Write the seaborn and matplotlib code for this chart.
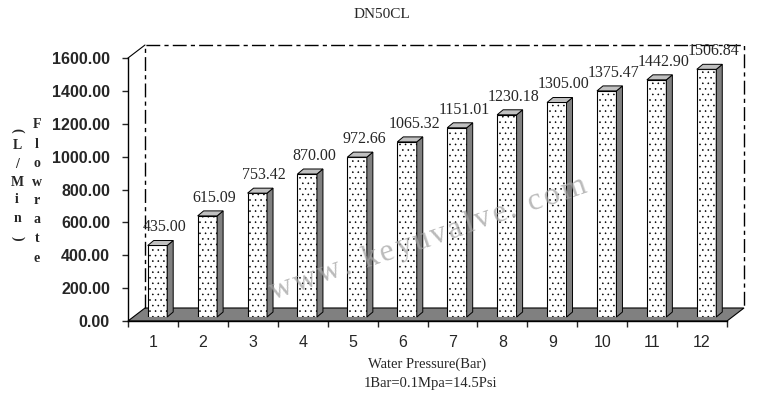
import matplotlib
matplotlib.use("Agg")
import math
import matplotlib.pyplot as plt
from matplotlib.patches import Polygon
from matplotlib.lines import Line2D
from matplotlib.transforms import IdentityTransform
import pandas as pd
import seaborn as sns

## Data

pressure = ['1', '2', '3', '4', '5', '6', '7', '8', '9', '10', '11', '12']
flow = [435.00, 615.09, 753.42, 870.00, 972.66, 1065.32, 1151.01,
        1230.18, 1305.00, 1375.47, 1442.90, 1506.84]
yticks = [0, 200, 400, 600, 800, 1000, 1200, 1400, 1600]

df = pd.DataFrame({'pressure': pressure, 'flow': flow})

W, H = 775, 398
sns.set_style('white')
plt.rcParams['hatch.color'] = 'black'
plt.rcParams['hatch.linewidth'] = 0.4

serif = 'Liberation Serif'
sans = 'Liberation Sans'


def px(x, y):
    return x / W, 1 - y / H


fig = plt.figure(figsize=(W / 100, H / 100), dpi=100)

## main axes: front of the 3D box (ticks, labels, floor)
left, right, top, bottom = 128, 727, 58, 321
ax = fig.add_axes([left / W, 1 - bottom / H, (right - left) / W, (bottom - top) / H])
ax.set_xlim(-0.5, len(pressure) - 0.5)
ax.set_ylim(0, 1600)
ax.set_facecolor('none')
for s in ['top', 'right']:
    ax.spines[s].set_visible(False)
for s in ['left', 'bottom']:
    ax.spines[s].set_color('black')
    ax.spines[s].set_linewidth(1)

ax.set_yticks(yticks)
ax.set_yticklabels([f'{v:.2f}' for v in yticks], fontfamily=sans,
                   fontweight='bold', fontsize=11.5)
ax.tick_params(axis='y', direction='out', length=4, width=1, pad=9, left=True)
ax.set_xticks(range(len(pressure)))
ax.set_xticklabels(pressure, fontfamily=sans, fontsize=11.5)
ax.set_xticks([i - 0.5 for i in range(len(pressure) + 1)], minor=True)
ax.tick_params(axis='x', which='major', length=0, pad=10)
ax.tick_params(axis='x', which='minor', direction='out', length=4, width=1, bottom=True)

# 3D depth of the box in pixels
dx, dy = 17, 13
fl = ax.transAxes.transform((0, 0))
fr = ax.transAxes.transform((1, 0))
tl = ax.transAxes.transform((0, 1))
floor = Polygon([fl, fr, (fr[0] + dx, fr[1] + dy), (fl[0] + dx, fl[1] + dy)],
                closed=True, facecolor='#808080', edgecolor='black', lw=0.8,
                transform=IdentityTransform(), zorder=1, clip_on=False)
ax.add_artist(floor)

# back wall outline (dash-dot)
bl = (fl[0] + dx, fl[1] + dy)
btl = (tl[0] + dx, tl[1] + dy)
btr = (fr[0] + dx, tl[1] + dy)
bbr = (fr[0] + dx, fr[1] + dy)
wall = Line2D([bl[0], btl[0], btr[0], bbr[0]], [bl[1], btl[1], btr[1], bbr[1]],
              color='black', lw=1, dashes=(10, 3, 3, 3),
              transform=IdentityTransform(), clip_on=False)
ax.add_artist(wall)
ax.add_artist(Line2D([tl[0], btl[0]], [tl[1], btl[1]], color='black', lw=0.8,
                     transform=IdentityTransform(), clip_on=False))

## bar axes, shifted into the depth of the box
bx, by = 4.5, 4
axb = fig.add_axes([(left + bx) / W, 1 - (bottom - by) / H,
                    (right - left) / W, (bottom - top) / H])
sns.barplot(data=df, x='pressure', y='flow', order=pressure, color='white',
            edgecolor='black', linewidth=0.8, width=0.39, saturation=1, ax=axb)
axb.set_xlim(-0.5, len(pressure) - 0.5)
axb.set_ylim(0, 1600)
axb.axis('off')

sx, sy = 6, 5
for p in axb.patches:
    p.set_hatch('...')
    p.set_zorder(3)
    x0, x1 = p.get_x(), p.get_x() + p.get_width()
    h = p.get_height()
    (a0, b0), (a1, b1) = axb.transData.transform([(x0, 0), (x1, h)])
    side = Polygon([(a1, b0), (a1, b1), (a1 + sx, b1 + sy), (a1 + sx, b0 + sy)],
                   facecolor='#808080', edgecolor='black', lw=0.7,
                   transform=IdentityTransform(), zorder=3, clip_on=False)
    topf = Polygon([(a0, b1), (a1, b1), (a1 + sx, b1 + sy), (a0 + sx, b1 + sy)],
                   facecolor='#c0c0c0', edgecolor='black', lw=0.7,
                   transform=IdentityTransform(), zorder=3, clip_on=False)
    axb.add_artist(side)
    axb.add_artist(topf)
    axb.annotate(f'{h:.2f}', (x0 + p.get_width() / 2, h), xytext=(7, 18),
                 textcoords='offset pixels', ha='center', va='center',
                 fontfamily=serif, fontsize=11.5, annotation_clip=False)

## texts
fig.text(*px(382, 14), 'DN50CL', fontfamily=serif, fontsize=11, ha='center', va='center')
fig.text(*px(427, 364), 'Water Pressure(Bar)', fontfamily=serif, fontsize=10.5,
         ha='center', va='center')
fig.text(*px(430, 383), '1Bar=0.1Mpa=14.5Psi', fontfamily=serif, fontsize=10.5,
         ha='center', va='center')

# vertical y label, one character per line
for i, ch in enumerate('Flowrate'):
    fig.text(*px(37, 125 + i * 19), ch, fontfamily=serif, fontweight='bold',
             fontsize=10, ha='center', va='center')
unit = ['(', 'L', '/', 'M', 'i', 'n', ')']
unit_y = [130, 146, 164, 182, 200, 219, 238]
for ch, yy in zip(unit, unit_y):
    rot = -90 if ch in '()' else 0
    fig.text(*px(17, yy), ch, fontfamily=serif, fontweight='bold', fontsize=10,
             ha='center', va='center', rotation=rot, rotation_mode='anchor')

# watermark, letter-spaced along a slanted line
renderer = fig.canvas.get_renderer()
angle = 19
ca, sa = math.cos(math.radians(angle)), math.sin(math.radians(angle))
gap = 2.5
cx, cy = 273, 300   # start of the baseline, pixels from top-left
for ch in 'www. keyuvalve. com':
    fig.text(*px(cx, cy), ch, fontfamily=serif, fontsize=23, color='#a4a4a4',
             alpha=0.75, rotation=angle, ha='left', va='baseline',
             rotation_mode='anchor', zorder=10)
    w = fig.text(0, 0, ch if ch != ' ' else 'n', fontfamily=serif, fontsize=23)
    adv = w.get_window_extent(renderer).width
    if ch == ' ':
        adv *= 0.5
    w.remove()
    cx += (adv + gap) * ca
    cy -= (adv + gap) * sa

fig.savefig('out.png', dpi=100)
